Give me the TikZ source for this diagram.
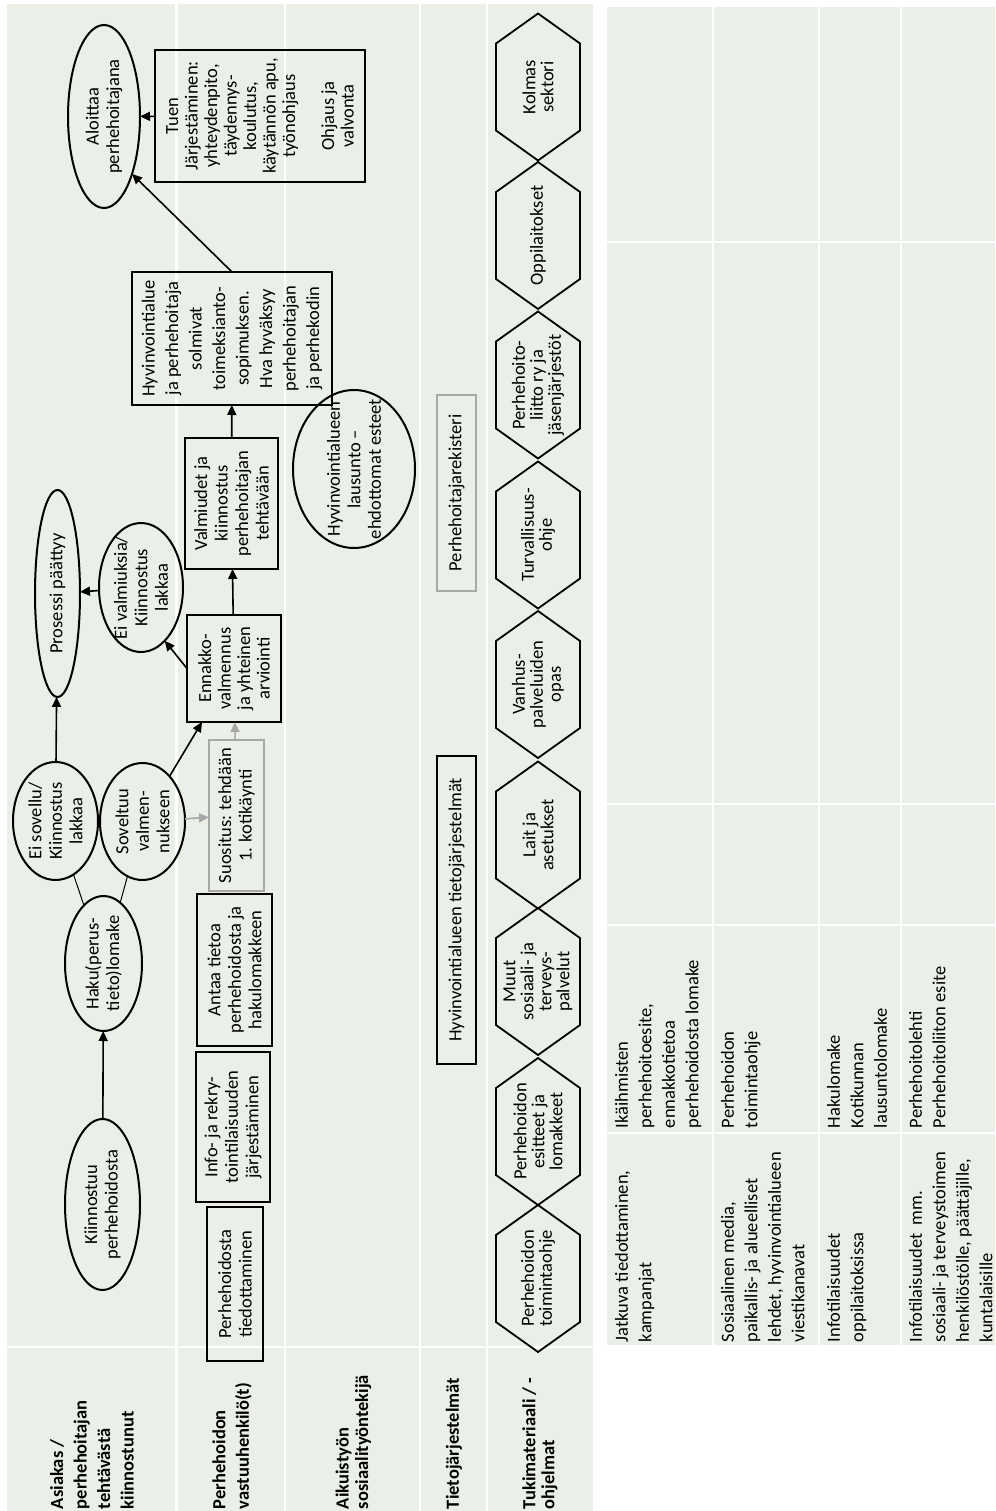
\documentclass[tikz,border=0pt]{standalone}
\usepackage{fontspec}
\setmainfont{Carlito}
\usepackage{tikz}
\usetikzlibrary{arrows.meta, shapes.geometric}
\definecolor{lanegreen}{RGB}{234, 239, 232}
\definecolor{framegray}{RGB}{168, 168, 168}

\begin{document}
\begin{tikzpicture}[
  x=1pt, y=-1pt,
  every node/.style={rotate=90, inner sep=0pt, outer sep=0pt, align=center,
                     font=\fontsize{18.5}{20.5}\selectfont},
  box/.style={draw, line width=2pt},
  graybox/.style={draw=framegray, line width=2pt},
  ellip/.style={ellipse, draw, line width=2pt},
  lanelabel/.style={anchor=west, align=left, font=\fontsize{18.5}{23.5}\selectfont\bfseries},
  cell/.style={anchor=north west, align=left, font=\fontsize{18.5}{23.5}\selectfont},
  hexline/.style={line width=1.8pt},
  arrow/.style={-{Triangle[length=10pt, width=9pt]}, line width=1.6pt},
  grayarrow/.style={arrow, draw=framegray, fill=framegray},
  thinline/.style={line width=1pt}
]
  \useasboundingbox (0,0) rectangle (995,1511);
  \fill[white] (0,0) rectangle (995,1511);

  \fill[lanegreen] (7,4) rectangle (593,1511);
  \foreach \lx in {176.5, 285, 420, 487}
    \draw[white, line width=2.5pt] (\lx,4) -- (\lx,1511);
  \draw[white, line width=2.5pt] (7,1347) -- (593,1347);

  \fill[lanegreen] (607,7) rectangle (995,1345);
  \foreach \tx in {713, 819, 901}
    \draw[white, line width=2.5pt] (\tx,7) -- (\tx,1345);
  \foreach \ty in {242, 804, 925, 1133}
    \draw[white, line width=2.5pt] (607,\ty) -- (995,\ty);

  \node[lanelabel] (lane1) at (92,1509) {Asiakas /\\perhehoitajan\\tehtävästä\\kiinnostunut};
  \node[lanelabel] (lane2) at (232,1509) {Perhehoidon\\vastuuhenkilö(t)};
  \node[lanelabel, font=\fontsize{18.5}{19.5}\selectfont\bfseries] (lane3) at (353.5,1509) {Aikuistyön\\sosiaalityöntekijä};
  \node[lanelabel] (lane4) at (454,1509) {Tietojärjestelmät};
  \node[lanelabel, font=\fontsize{18.5}{19}\selectfont\bfseries] (lane5) at (540,1509) {Tukimateriaali / -\\ohjelmat};

  \node[ellip, minimum width=183pt, minimum height=72pt] (aloittaa) at (104,116.5) {Aloittaa\\perhehoitajana};
  \node[ellip, minimum width=207pt, minimum height=45pt] (paattyy) at (57.5,593.5) {Prosessi päättyy};
  \node[ellip, minimum width=129pt, minimum height=84pt] (eivalm) at (141,587.5) {};
  \node (eivalmtxt) at (eivalm) {Ei valmiuksia/\\Kiinnostus\\lakkaa};
  \node[ellip, minimum width=118pt, minimum height=85pt] (eisov) at (55.5,821) {Ei sovellu/\\Kiinnostus\\lakkaa};
  \node[ellip, minimum width=117pt, minimum height=85pt] (soveltuu) at (142.5,821.5) {Soveltuu\\valmen-\\nukseen};
  \node[ellip, minimum width=135pt, minimum height=77pt] (haku) at (103.5,963.5) {Haku(perus-\\tieto)lomake};
  \node[ellip, minimum width=171pt, minimum height=75pt] (kiinn) at (102.5,1204.5) {Kiinnostuu\\perhehoidosta};

  \node[box, minimum width=132pt, minimum height=210pt, font=\fontsize{18.5}{19.5}\selectfont] (tuen) at (260,116)
    {Tuen\\Järjestäminen:\\yhteydenpito,\\täydennys-\\koulutus,\\käytännön apu,\\työnohjaus\\[19.5pt]Ohjaus ja\\valvonta};
  \node[box, minimum width=133pt, minimum height=200pt, font=\fontsize{18.5}{23.5}\selectfont] (sopimus) at (232,338.5)
    {Hyvinvointialue\\ja perhehoitaja\\solmivat\\toimeksianto-\\sopimuksen.\\Hva hyväksyy\\perhehoitajan\\ja perhekodin};
  \node[box, minimum width=131pt, minimum height=93pt] (valmiudet) at (231.5,503.5) {Valmiudet ja\\kiinnostus\\perhehoitajan\\tehtävään};
  \node[box, minimum width=107pt, minimum height=94pt, font=\fontsize{18.5}{19.5}\selectfont] (ennakko) at (234,668.5) {Ennakko-\\valmennus\\ja yhteinen\\arviointi};
  \node[graybox, minimum width=151pt, minimum height=55pt] (suositus) at (236.5,815.5) {Suositus: tehdään\\1. kotikäynti};
  \node[box, minimum width=152pt, minimum height=75pt] (antaa) at (234.5,970) {Antaa tietoa\\perhehoidosta ja\\hakulomakkeen};
  \node[box, minimum width=150pt, minimum height=74pt] (info) at (233,1127) {Info- ja rekry-\\tointilaisuuden\\järjestäminen};
  \node[box, minimum width=154pt, minimum height=56pt] (tiedotus) at (235,1284) {Perhehoidosta\\tiedottaminen};

  \node[ellip, minimum width=158pt, minimum height=122pt] (lausunto) at (354,469) {};
  \node (lausuntotxt) at (lausunto) {Hyvinvointialueen\\lausunto –\\ehdottomat esteet};

  \node[box, minimum width=308pt, minimum height=39pt] (tietojarj) at (456.5,910) {Hyvinvointialueen tietojärjestelmät};
  \node[graybox, minimum width=196pt, minimum height=39pt] (rekisteri) at (456.5,493) {Perhehoitajarekisteri};

  \foreach \hy/\htext [count=\i] in {1278.5/{Perhehoidon\\toimintaohje}, 1131.5/{Perhehoidon\\esitteet ja\\lomakkeet},
      981.5/{Muut\\sosiaali- ja\\terveys-\\palvelut}, 835/{Lait ja\\asetukset}, 684.5/{Vanhus-\\palveluiden\\opas},
      535/{Turvallisuus-\\ohje}, 385/{Perhehoito-\\liitto ry ja\\jäsenjärjestöt}, 235.5/{Oppilaitokset}, 87/{Kolmas\\sektori}} {
    \draw[hexline] (496,{\hy-43.5}) -- (496,{\hy+43.5}) -- (538,{\hy+73.5}) -- (580,{\hy+43.5})
      -- (580,{\hy-43.5}) -- (538,{\hy-73.5}) -- cycle;
    \node[font=\fontsize{18.5}{18}\selectfont] (hex\i) at (538,\hy) {\htext};
  }

  \node[cell] (c1e) at (615,1342) {Jatkuva tiedottaminen,\\kampanjat};
  \node[cell] (c1d) at (615,1128) {Ikäihmisten\\perhehoitoesite,\\ennakkotietoa\\perhehoidosta lomake};
  \node[cell] (c2e) at (721,1342) {Sosiaalinen media,\\paikallis- ja alueelliset\\lehdet, hyvinvointialueen\\viestikanavat};
  \node[cell] (c2d) at (721,1128) {Perhehoidon\\toimintaohje};
  \node[cell] (c3e) at (827,1342) {Infotilaisuudet\\oppilaitoksissa};
  \node[cell] (c3d) at (827,1128) {Hakulomake\\Kotikunnan\\lausuntolomake};
  \node[cell] (c4e) at (909,1342) {Infotilaisuudet~ mm.\\sosiaali- ja terveystoimen\\henkilöstölle, päättäjille,\\kuntalaisille};
  \node[cell] (c4d) at (909,1128) {Perhehoitolehti\\Perhehoitoliiton esite};

  \draw[arrow] (kiinn) -- (haku);
  \draw[thinline] (haku) -- (eisov);
  \draw[thinline] (haku) -- (soveltuu);
  \draw[arrow] (eisov) -- (paattyy);
  \draw[arrow] (soveltuu) -- (ennakko);
  \draw[grayarrow] (soveltuu) -- (suositus);
  \draw[grayarrow] (suositus) -- (ennakko);
  \draw[arrow] (ennakko.north) -- (eivalm.204);
  \draw[arrow] (eivalm) -- (paattyy);
  \draw[arrow] (ennakko) -- (valmiudet);
  \draw[arrow] (valmiudet) -- (sopimus);
  \draw[arrow] (sopimus.east) -- (aloittaa.206);
  \draw[arrow] (tuen) -- (aloittaa);
\end{tikzpicture}
\end{document}
